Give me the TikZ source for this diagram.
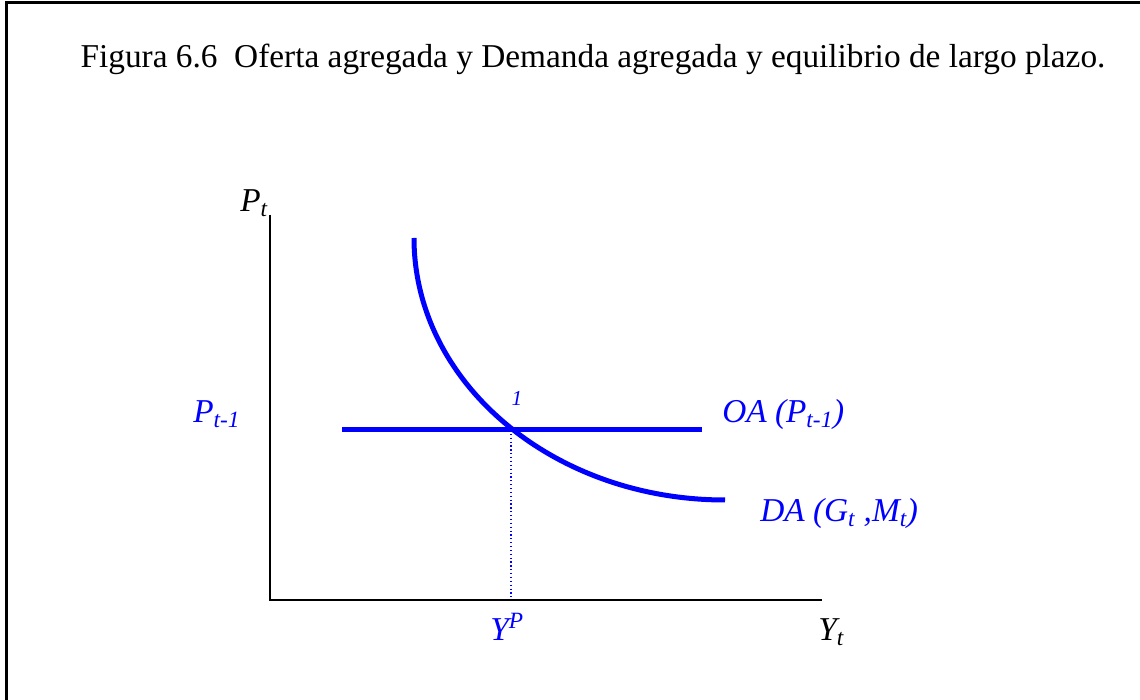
\documentclass[tikz,border=0pt]{standalone}
\usepackage{fontspec}
\setmainfont{Liberation Serif}
\usetikzlibrary{positioning}
\definecolor{CurveBlue}{HTML}{0000FF}

\begin{document}
\begin{tikzpicture}[x=0.75pt, y=0.75pt,
  frame/.style={line width=2.25pt, black},
  axis/.style={line width=1.5pt, black},
  curve/.style={line width=3.75pt, CurveBlue},
  guide/.style={line width=0.9pt, CurveBlue, dotted},
  lbl/.style={inner sep=0pt, font=\fontsize{25}{30}\selectfont\itshape},
  small/.style={inner sep=0pt, font=\fontsize{16}{19}\selectfont\itshape}]
\useasboundingbox (0,0) rectangle (1140,700);

% Frame (left and top edge)
\draw[frame] (6,0) -- (6,697) -- (1140,697);

% Title
\node[inner sep=0pt, font=\fontsize{25}{30}\selectfont, anchor=base] (title) at (593,632)
  {Figura 6.6\ \ Oferta agregada y Demanda agregada y equilibrio de largo plazo.};

% Axes
\coordinate (origin) at (270,100);
\coordinate (ytop) at (270,485);
\coordinate (xend) at (822,100);
\draw[axis] (ytop) -- (origin) -- (xend);
\node[lbl, anchor=base west] (pt) at (240,488) {P\textsubscript{t}};
\node[lbl, anchor=base west] (yt) at (818,59) {Y\textsubscript{t}};

% OA curve, horizontal at P(t-1)
\coordinate (oaL) at (342,270);
\coordinate (oaR) at (702,270);
\draw[curve] (oaL) -- (oaR);

% DA curve
\draw[curve] (414,462) arc[start angle=180, end angle=270, x radius=311, y radius=262]
  coordinate (daR);

% Equilibrium 1
\coordinate (eq) at (511,270);
\draw[guide] (eq) -- (eq |- origin);
\node[small, CurveBlue, anchor=base] (one) at (517,294) {1};

% Labels
\node[lbl, CurveBlue, anchor=base west] (ptm) at (193,277) {P\textsubscript{t-1}};
\node[lbl, CurveBlue, anchor=base west] (oa) at (722,277) {OA (P\textsubscript{t-1})};
\node[lbl, CurveBlue, anchor=base west] (da) at (760,178) {DA (G\textsubscript{t} ,M\textsubscript{t})};
\node[lbl, CurveBlue, anchor=base west] (yp) at (490,59) {Y\textsuperscript{P}};
\end{tikzpicture}
\end{document}
